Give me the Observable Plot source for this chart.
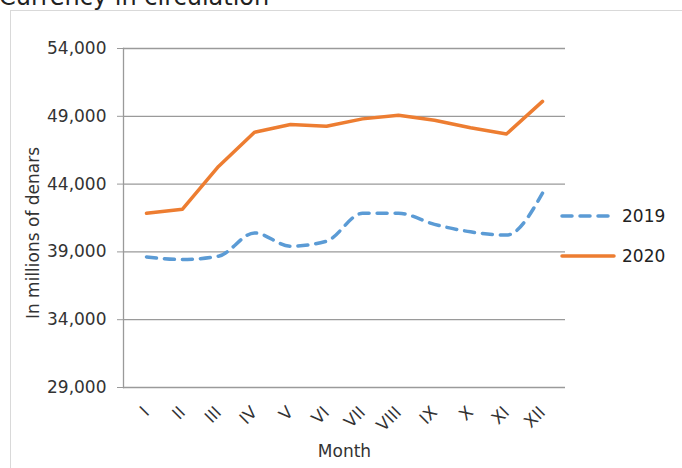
<!DOCTYPE html>
<html>
<head>
<meta charset="utf-8">
<script src="https://cdn.jsdelivr.net/npm/d3@7"></script>
<script src="https://cdn.jsdelivr.net/npm/@observablehq/plot@0.6"></script>
<style>
  html, body { margin: 0; padding: 0; background: #fff; overflow: hidden; }
  body { width: 682px; height: 468px; position: relative; font-family: "DejaVu Sans", sans-serif; color: #333; }
  #title { position: absolute; left: -1px; top: -15px; font-size: 24px; line-height: 24px; white-space: nowrap; color: #222; }
  #box { position: absolute; left: 10px; top: 10px; width: 700px; height: 500px; border-left: 1px solid #d9d9d9; border-top: 1px solid #d9d9d9; box-sizing: border-box; }
  #chart { position: absolute; left: 0; top: 0; }
  #legend { position: absolute; left: 560px; top: 204px; font-size: 17px; color: #222; }
  .item { display: flex; align-items: center; height: 24px; margin-bottom: 16px; }
  .item span { margin-left: 6px; }
</style>
</head>
<body>
<div id="title">Currency in circulation</div>
<div id="box"></div>
<div id="chart"></div>
<div id="legend"></div>
<script>
const months = ["I","II","III","IV","V","VI","VII","VIII","IX","X","XI","XII"];
const v2019 = [38630, 38440, 38680, 40400, 39420, 39790, 41850, 41850, 41030, 40480, 40240, 43330];
const v2020 = [41850, 42150, 45300, 47820, 48400, 48270, 48810, 49080, 48710, 48150, 47700, 50100];
const yTicks = [29000, 34000, 39000, 44000, 49000, 54000];
const seriesNames = ["2019", "2020"];
const colors = ["#5b9bd5", "#ed7d31"];

const d2019 = months.map((m, i) => ({month: m, value: v2019[i]}));
const d2020 = months.map((m, i) => ({month: m, value: v2020[i]}));

const plot = Plot.plot({
  width: 682,
  height: 468,
  marginLeft: 123,
  marginRight: 117,
  marginTop: 48,
  marginBottom: 81,
  style: {fontFamily: "DejaVu Sans, sans-serif", fontSize: "17px", color: "#333", background: "transparent", overflow: "visible"},
  x: {type: "point", domain: months, padding: 0.5},
  y: {domain: [29000, 54000]},
  marks: [
    Plot.ruleY(yTicks, {stroke: "#9a9a9a", strokeWidth: 1.3}),
    Plot.frame({anchor: "left", stroke: "#9a9a9a", strokeWidth: 1.3}),
    Plot.axisY({ticks: yTicks, tickFormat: d3.format(","), tickSize: 6, tickPadding: 11, stroke: "#9a9a9a", fontSize: 17,
      label: "In millions of denars", labelArrow: "none", labelAnchor: "center", labelOffset: 97}),
    Plot.axisX({tickSize: 0, tickRotate: -45, tickPadding: 22, fontSize: 17, label: "Month", labelArrow: "none", labelAnchor: "center", labelOffset: 69}),
    Plot.line(d2019, {x: "month", y: "value", stroke: colors[0], strokeWidth: 3.5, strokeDasharray: "10,8", strokeLinecap: "round", curve: "monotone-x"}),
    Plot.line(d2020, {x: "month", y: "value", stroke: colors[1], strokeWidth: 3.5, strokeLinecap: "round", strokeLinejoin: "round"})
  ]
});
plot.querySelectorAll("g[aria-label]").forEach(g => {
  const l = g.getAttribute("aria-label");
  if (["y-axis tick label", "x-axis tick label", "y-axis label", "x-axis label"].includes(l)) {
    g.style.fontSize = "17px";
    g.style.fill = "#333";
    g.querySelectorAll("text").forEach(t => { t.style.fontSize = "17px"; });
  }
  if (l === "y-axis label") {
    const tr = g.getAttribute("transform") || "";
    g.setAttribute("transform", (tr + " translate(0,15)").trim());
  }
});
document.getElementById("chart").appendChild(plot);

const legend = document.getElementById("legend");
seriesNames.forEach((name, i) => {
  const div = document.createElement("div");
  div.className = "item";
  const dash = i === 0 ? 'stroke-dasharray="10,8"' : '';
  div.innerHTML = `<svg width="56" height="8"><line x1="2" y1="4" x2="54" y2="4" stroke="${colors[i]}" stroke-width="3.5" stroke-linecap="round" ${dash}/></svg><span>${name}</span>`;
  legend.appendChild(div);
});
</script>
</body>
</html>
